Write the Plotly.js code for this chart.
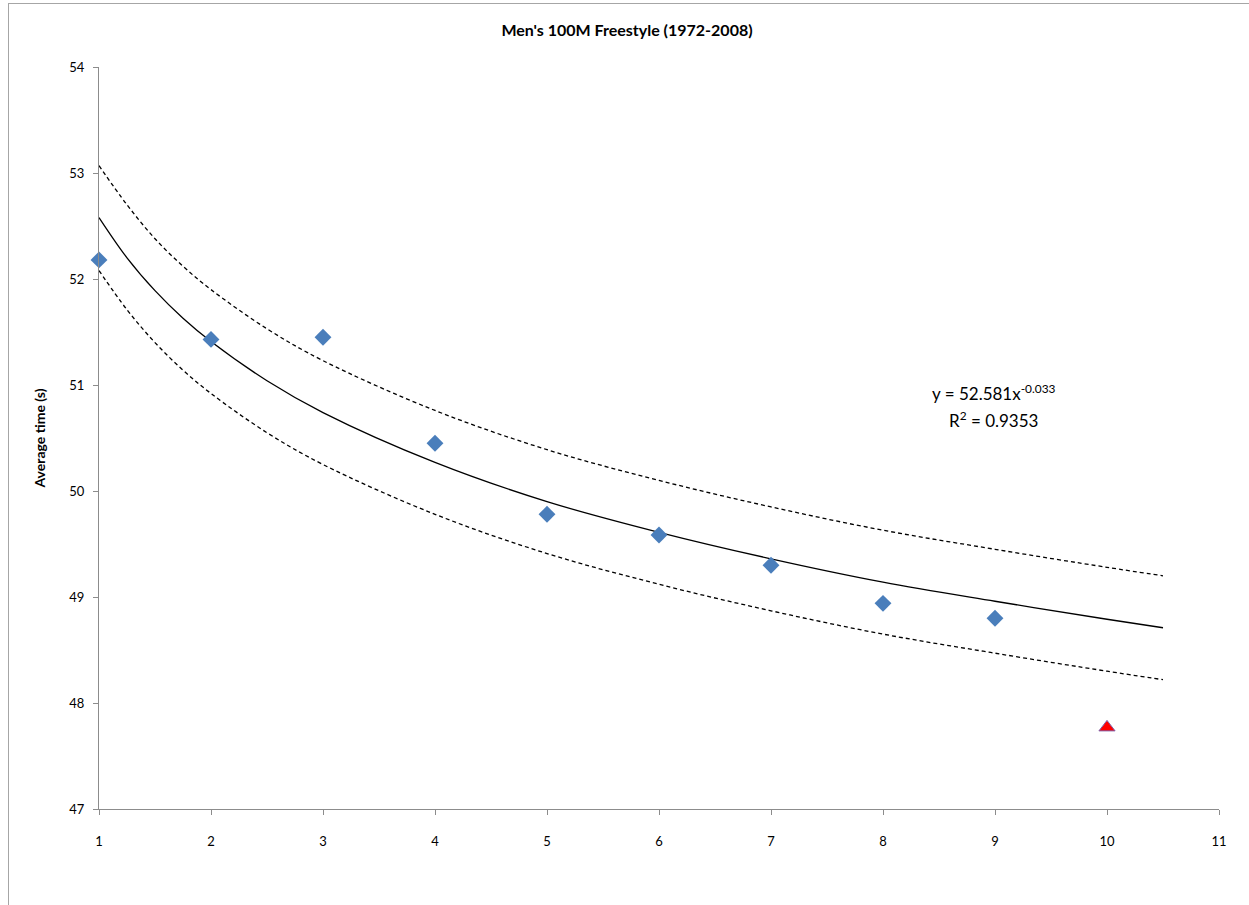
<!DOCTYPE html>
<html>
<head>
<meta charset="utf-8">
<script src="https://cdn.plot.ly/plotly-3.0.1.min.js"></script>
<style>
  html, body { margin: 0; padding: 0; background: #ffffff; }
  #chart { width: 1249px; height: 905px; position: absolute; left: 0; top: 0; }
  #frame { position: absolute; left: 8px; top: 3px; width: 1245px; height: 920px;
           border: 1px solid #a6a6a6; pointer-events: none; }
</style>
</head>
<body>
<div id="chart"></div>
<div id="frame"></div>
<script>
// Observed averages (games 1..9) and the 2008 result (game 10)
const games = [1, 2, 3, 4, 5, 6, 7, 8, 9];
const avgTimes = [52.18, 51.43, 51.45, 50.45, 49.78, 49.585, 49.30, 48.94, 48.80];
const latestGame = [10];
const latestTime = [47.77];

// Power-law trend line and its dashed bounds
const fitX = [1, 1.25, 1.5, 1.75, 2, 2.5, 3, 4, 5, 6, 7, 8, 9, 10, 10.5];
const fitY = [52.58, 52.20, 51.89, 51.63, 51.41, 51.04, 50.74, 50.27, 49.90, 49.61, 49.36, 49.14, 48.96, 48.79, 48.71];
const upperY = [53.07, 52.70, 52.38, 52.12, 51.90, 51.53, 51.23, 50.76, 50.39, 50.10, 49.85, 49.63, 49.45, 49.28, 49.20];
const lowerY = [52.08, 51.71, 51.40, 51.14, 50.92, 50.55, 50.25, 49.78, 49.41, 49.12, 48.87, 48.65, 48.47, 48.30, 48.22];

const xTicks = [1, 2, 3, 4, 5, 6, 7, 8, 9, 10, 11];
const yTicks = [47, 48, 49, 50, 51, 52, 53, 54];

const chartTitle = "Men's 100M Freestyle (1972-2008)";
const yTitle = "Average time (s)";
const eqText = "y = 52.581x<sup>-0.033</sup>";
const r2Text = "R<sup>2</sup> = 0.9353";

const FONT = "Lato, 'Open Sans', 'Liberation Sans', sans-serif";

const traces = [
  { x: fitX, y: upperY, mode: 'lines', line: { color: '#000000', width: 1.3, dash: '4px,3px', shape: 'spline' }, hoverinfo: 'skip' },
  { x: fitX, y: lowerY, mode: 'lines', line: { color: '#000000', width: 1.3, dash: '4px,3px', shape: 'spline' }, hoverinfo: 'skip' },
  { x: fitX, y: fitY, mode: 'lines', line: { color: '#000000', width: 1.3, shape: 'spline' }, hoverinfo: 'skip' },
  { x: games, y: avgTimes, mode: 'markers', cliponaxis: false,
    marker: { symbol: 'diamond', size: 13, color: '#4A7EBB', line: { color: '#4A7EBB', width: 0 } } },
  { x: latestGame, y: latestTime, mode: 'markers', cliponaxis: false,
    marker: { symbol: 'triangle-up', size: 14, color: '#FF0000', line: { color: '#7F5FA8', width: 1 } } }
];

const layout = {
  width: 1249, height: 905,
  margin: { l: 99, r: 30, t: 67, b: 96, pad: 0 },
  paper_bgcolor: 'rgba(0,0,0,0)',
  plot_bgcolor: '#ffffff',
  showlegend: false,
  font: { family: FONT, size: 13, color: '#000000' },
  title: { text: '<b>' + chartTitle + '</b>', x: 0.502, xref: 'container', xanchor: 'center',
           y: 0.966, yref: 'container', yanchor: 'middle',
           font: { family: FONT, size: 16, color: '#000000' } },
  xaxis: {
    range: [1, 11], tickvals: xTicks, ticktext: xTicks.map(String),
    showgrid: false, zeroline: false, showline: true, linecolor: '#8c8c8c', linewidth: 1,
    ticks: 'outside', ticklen: 5, tickcolor: '#8c8c8c', ticklabelstandoff: 15,
    tickfont: { family: FONT, size: 13, color: '#000000' }, fixedrange: true
  },
  yaxis: {
    range: [47, 54], tickvals: yTicks, ticktext: yTicks.map(String),
    showgrid: false, zeroline: false, showline: true, linecolor: '#8c8c8c', linewidth: 1,
    ticks: 'outside', ticklen: 5, tickcolor: '#8c8c8c', ticklabelstandoff: 6,
    tickfont: { family: FONT, size: 13, color: '#000000' },
    title: { text: '<b>' + yTitle + '</b>', standoff: 20, font: { family: FONT, size: 14, color: '#000000' } },
    fixedrange: true
  },
  annotations: [
    { text: eqText, x: 8.99, y: 50.93, xref: 'x', yref: 'y', showarrow: false,
      xanchor: 'center', yanchor: 'middle', font: { family: FONT, size: 17, color: '#000000' } },
    { text: r2Text, x: 8.99, y: 50.67, xref: 'x', yref: 'y', showarrow: false,
      xanchor: 'center', yanchor: 'middle', font: { family: FONT, size: 17, color: '#000000' } }
  ]
};

Plotly.newPlot('chart', traces, layout, { displayModeBar: false, staticPlot: true });
</script>
</body>
</html>
